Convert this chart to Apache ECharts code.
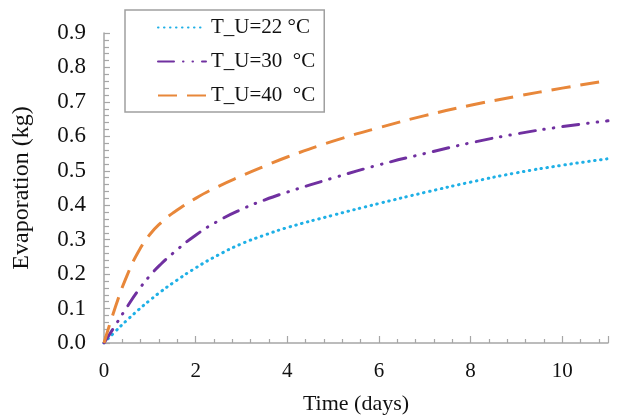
<!DOCTYPE html>
<html><head><meta charset="utf-8">
<script src="https://cdn.jsdelivr.net/npm/echarts@6/dist/echarts.min.js"></script>
<style>html,body{margin:0;padding:0;background:#fff;}#c{width:637px;height:420px;}</style>
</head><body><div id="c"></div>
<script>
var times = [0, 0.25, 0.5, 0.75, 1, 1.25, 1.5, 2, 2.5, 3, 3.5, 4, 5, 6, 7, 8, 9, 10, 11];
var evap22 = [0, 0.034, 0.066, 0.096, 0.124, 0.15, 0.174, 0.218, 0.256, 0.288, 0.313, 0.335, 0.371, 0.405, 0.437, 0.467, 0.494, 0.516, 0.535];
var evap30 = [0, 0.052, 0.104, 0.153, 0.195, 0.23, 0.26, 0.313, 0.355, 0.388, 0.415, 0.438, 0.479, 0.517, 0.55, 0.581, 0.607, 0.628, 0.645];
var evap40 = [0, 0.105, 0.195, 0.265, 0.315, 0.35, 0.377, 0.42, 0.455, 0.485, 0.513, 0.54, 0.586, 0.625, 0.66, 0.69, 0.716, 0.74, 0.762];
var seriesNames = ['T_U=22 °C', 'T_U=30  °C', 'T_U=40  °C'];
var yTicks = ['0.0','0.1','0.2','0.3','0.4','0.5','0.6','0.7','0.8','0.9'];

function pairs(v){ return times.map(function(t,i){ return [t, v[i]]; }); }
var font = '"Liberation Serif", "Times New Roman", serif';
var axisGrey = '#A6A6A6';

var chart = echarts.init(document.getElementById('c'), null, {renderer:'canvas'});
chart.setOption({
  animation: false,
  backgroundColor: '#fff',
  grid: {left: 104, right: 29, top: 33, bottom: 77},
  legend: {
    orient: 'vertical', left: 125, top: 10,
    padding: [7, 9, 6, 32],
    itemWidth: 48, itemHeight: 20, itemGap: 13,
    borderColor: '#A0A0A0', borderWidth: 1.5,
    itemStyle: {opacity: 0, borderWidth: 0},
    textStyle: {fontFamily: font, fontSize: 21, color: '#111'},
    data: seriesNames
  },
  xAxis: {
    type: 'value', min: 0, max: 11, interval: 2,
    name: 'Time (days)', nameLocation: 'middle', nameGap: 50,
    nameTextStyle: {fontFamily: font, fontSize: 22, color: '#111'},
    axisLine: {show: true, lineStyle: {color: axisGrey, width: 1.5}},
    axisTick: {show: true, inside: true, length: 7, lineStyle: {color: axisGrey, width: 1.2}},
    minorTick: {show: true, splitNumber: 5, length: 4, lineStyle: {color: axisGrey, width: 1.2}},
    splitLine: {show: false},
    axisLabel: {fontFamily: font, fontSize: 21, color: '#111', margin: 18, showMaxLabel: false,
      formatter: function(v){ return v === 11 ? '' : String(v); }}
  },
  yAxis: {
    type: 'value', min: 0, max: 0.9, interval: 0.1,
    name: 'Evaporation (kg)', nameLocation: 'middle', nameGap: 70, nameRotate: 90,
    nameTextStyle: {fontFamily: font, fontSize: 24, color: '#111'},
    axisLine: {show: true, lineStyle: {color: axisGrey, width: 1.5}},
    axisTick: {show: true, inside: true, length: 6, lineStyle: {color: axisGrey, width: 1.2}},
    minorTick: {show: true, splitNumber: 5, length: 5, lineStyle: {color: axisGrey, width: 1.2}},
    splitLine: {show: false},
    axisLabel: {fontFamily: font, fontSize: 23, color: '#111', margin: 18,
      formatter: function(v){ return yTicks[Math.round(v*10)]; }}
  },
  series: [
    {name: seriesNames[0], type: 'line', data: pairs(evap22), smooth: true, symbol: 'none', showSymbol: false,
     color: '#1FB0E6', lineStyle: {color: '#1FB0E6', width: 3, cap: 'round', type: [0.5, 5.5]}},
    {name: seriesNames[1], type: 'line', data: pairs(evap30), smooth: true, symbol: 'none', showSymbol: false,
     color: '#7030A0', lineStyle: {color: '#7030A0', width: 3, cap: 'round', type: [16, 9, 0.5, 9, 0.5, 9]}},
    {name: seriesNames[2], type: 'line', data: pairs(evap40), smooth: true, symbol: 'none', showSymbol: false,
     color: '#E8873A', lineStyle: {color: '#E8873A', width: 3, type: [19, 10]}}
  ]
});
</script></body></html>
